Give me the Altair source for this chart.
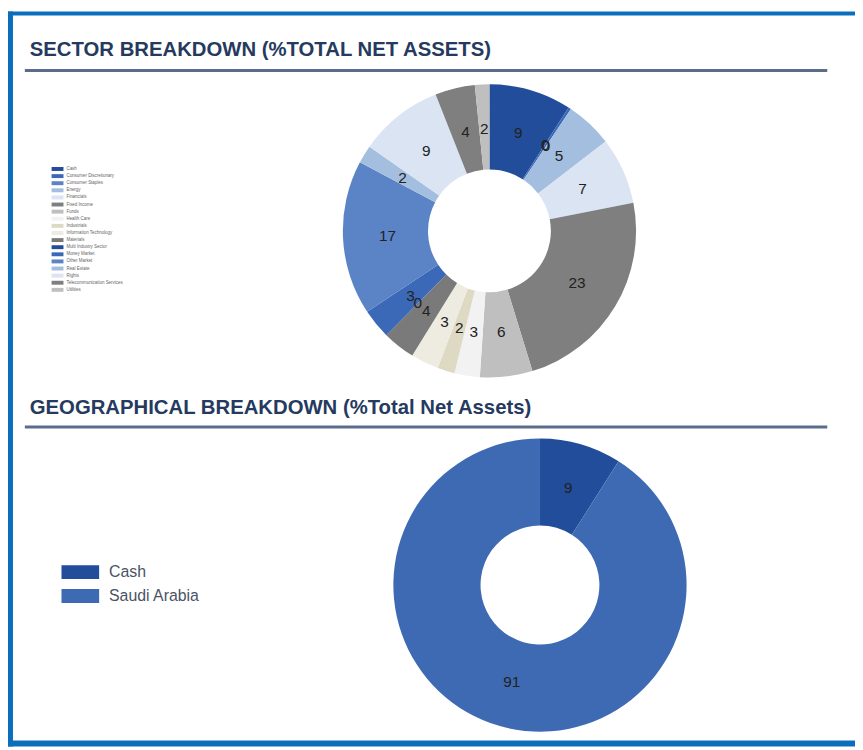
import altair as alt
import pandas as pd

# ---------------- data ----------------
sector_names = [
    "Cash", "Consumer Discretionary", "Consumer Staples", "Energy", "Financials",
    "Fixed Income", "Funds", "Health Care", "Industrials", "Information Technology",
    "Materials", "Multi Industry Sector", "Money Market", "Other Market", "Real Estate",
    "Rights", "Telecommunication Services", "Utilities",
]
sector_values = [9.1, 0.3, 0.0, 5.2, 7.4, 23.4, 5.8, 2.8, 1.9, 3.1,
                 3.6, 0.0, 3.3, 17.1, 2.0, 9.3, 4.4, 1.6]
sector_colors = [
    "#214d9b", "#3c68b8", "#5a84c6", "#a4bee0", "#dbe4f2", "#7f7f7f", "#bfbfbf",
    "#f2f2f2", "#ddd9c3", "#eeece1", "#7a7a7a", "#214d9b", "#3c68b8", "#5a84c6",
    "#a4bee0", "#dbe4f2", "#7f7f7f", "#bfbfbf",
]

geo_names = ["Cash", "Saudi Arabia"]
geo_values = [9, 91]
geo_colors = ["#214d9b", "#3d6ab3"]

titles = ["SECTOR BREAKDOWN (%TOTAL NET ASSETS)",
          "GEOGRAPHICAL BREAKDOWN (%Total Net Assets)"]

# ---------------- tables ----------------
sector_df = pd.DataFrame({"cat": sector_names, "value": sector_values,
                          "idx": list(range(len(sector_names)))})
geo_df = pd.DataFrame({"cat": geo_names, "value": geo_values,
                       "idx": list(range(len(geo_names)))})
one = pd.DataFrame({"k": [0]})

W, H = 855, 742
FRAME = "#0a6ebd"
TITLE_C = "#253a5e"
LINE_C = "#5a6d8c"

# frame
frame_top = alt.Chart(one).mark_rect(color=FRAME).encode(
    x=alt.value(0), x2=alt.value(W), y=alt.value(0), y2=alt.value(4))
frame_left = alt.Chart(one).mark_rect(color=FRAME).encode(
    x=alt.value(0), x2=alt.value(5), y=alt.value(0), y2=alt.value(H))
frame_bottom = alt.Chart(one).mark_rect(color=FRAME).encode(
    x=alt.value(0), x2=alt.value(W), y=alt.value(736), y2=alt.value(H))

# titles
t1 = alt.Chart(one).mark_text(align="left", baseline="alphabetic", font="Liberation Sans",
                              fontWeight="bold", fontSize=20.5, color=TITLE_C).encode(
    x=alt.value(22), y=alt.value(45), text=alt.value(titles[0]))
t2 = alt.Chart(one).mark_text(align="left", baseline="alphabetic", font="Liberation Sans",
                              fontWeight="bold", fontSize=20.5, color=TITLE_C).encode(
    x=alt.value(22), y=alt.value(406), text=alt.value(titles[1]))
l1 = alt.Chart(one).mark_rule(color=LINE_C, strokeWidth=3).encode(
    x=alt.value(17), x2=alt.value(827), y=alt.value(59.5))
l2 = alt.Chart(one).mark_rule(color=LINE_C, strokeWidth=3).encode(
    x=alt.value(17), x2=alt.value(827), y=alt.value(419.5))

# sector donut
SCX, SCY = 486, 221.5
sec_arc = alt.Chart(sector_df).mark_arc(outerRadius=148, innerRadius=62).encode(
    theta=alt.Theta("value:Q", stack=True),
    color=alt.Color("cat:N", scale=alt.Scale(domain=sector_names, range=sector_colors),
                    legend=None),
    order=alt.Order("idx:Q"),
    x=alt.value(SCX), y=alt.value(SCY),
)
sec_lab = alt.Chart(sector_df).mark_text(radius=103, fontSize=15.5, font="Liberation Sans",
                                         color="#222222").encode(
    theta=alt.Theta("value:Q", stack=True),
    order=alt.Order("idx:Q"),
    text=alt.Text("value:Q", format=".0f"),
    x=alt.value(SCX), y=alt.value(SCY),
)

# sector legend
sec_leg_sym = alt.Chart(sector_df).mark_point(
    shape="M-1,-0.33H1V0.33H-1Z", size=144, filled=True, opacity=1).encode(
    y=alt.Y("cat:N", scale=alt.Scale(type="point", domain=sector_names, range=[159, 281],
                                     padding=0), axis=None),
    x=alt.value(50),
    color=alt.Color("cat:N", scale=alt.Scale(domain=sector_names, range=sector_colors),
                    legend=None),
)
sec_leg_txt = alt.Chart(sector_df).mark_text(
    align="left", baseline="middle", fontSize=4.5, font="Liberation Sans",
    color="#666666").encode(
    y=alt.Y("cat:N", scale=alt.Scale(type="point", domain=sector_names, range=[159, 281],
                                     padding=0), axis=None),
    x=alt.value(59),
    text="cat:N",
)

# geo donut
GCX, GCY = 537, 579
geo_arc = alt.Chart(geo_df).mark_arc(outerRadius=148, innerRadius=60).encode(
    theta=alt.Theta("value:Q", stack=True),
    color=alt.Color("cat:N", scale=alt.Scale(domain=geo_names, range=geo_colors),
                    legend=None),
    order=alt.Order("idx:Q"),
    x=alt.value(GCX), y=alt.value(GCY),
)
geo_lab = alt.Chart(geo_df).mark_text(radius=102, fontSize=15.5, font="Liberation Sans",
                                      color="#222222").encode(
    theta=alt.Theta("value:Q", stack=True),
    order=alt.Order("idx:Q"),
    text=alt.Text("value:Q", format=".0f"),
    x=alt.value(GCX), y=alt.value(GCY),
)

# geo legend
geo_leg_sym = alt.Chart(geo_df).mark_point(
    shape="M-1,-0.368H1V0.368H-1Z", size=1444, filled=True, opacity=1).encode(
    y=alt.Y("cat:N", scale=alt.Scale(type="point", domain=geo_names, range=[566, 590],
                                     padding=0), axis=None),
    x=alt.value(73),
    color=alt.Color("cat:N", scale=alt.Scale(domain=geo_names, range=geo_colors),
                    legend=None),
)
geo_leg_txt = alt.Chart(geo_df).mark_text(
    align="left", baseline="middle", fontSize=16, font="Liberation Sans",
    color="#4a5366").encode(
    y=alt.Y("cat:N", scale=alt.Scale(type="point", domain=geo_names, range=[566, 590],
                                     padding=0), axis=None),
    x=alt.value(102),
    text="cat:N",
)

chart = alt.layer(
    frame_top, frame_left, frame_bottom, t1, t2, l1, l2,
    sec_arc, sec_lab, sec_leg_sym, sec_leg_txt,
    geo_arc, geo_lab, geo_leg_sym, geo_leg_txt,
).resolve_scale(
    theta="independent", color="independent", y="independent", x="independent"
).properties(
    width=W, height=H, autosize=alt.AutoSizeParams(type="none"), padding=0,
    background="white",
).configure_view(stroke="transparent")

chart.save("out.html", embed_options={"renderer": "svg", "actions": False})
